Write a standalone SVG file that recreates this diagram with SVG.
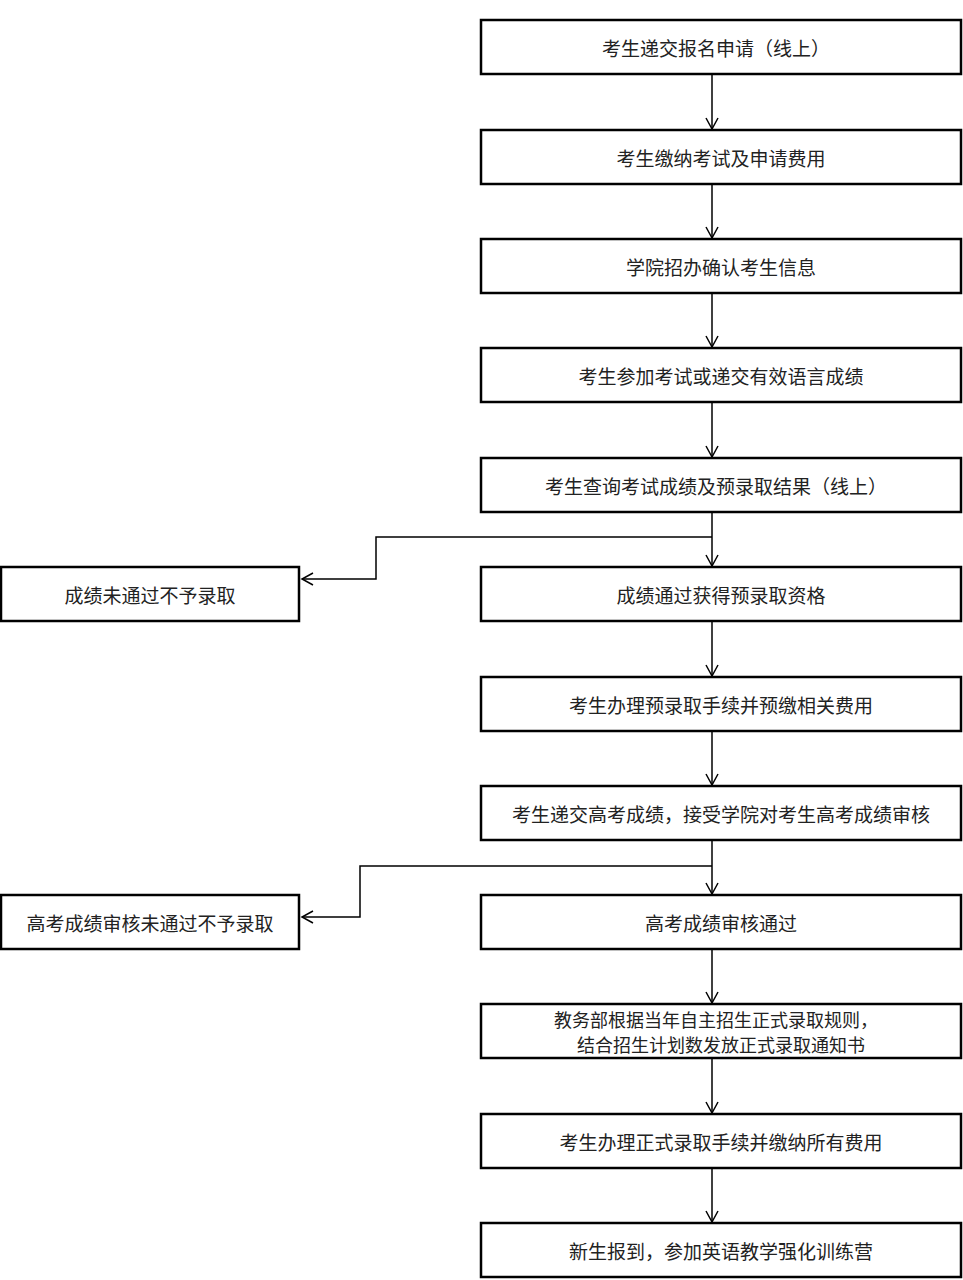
<svg xmlns="http://www.w3.org/2000/svg" width="963" height="1280" viewBox="0 0 963 1280">
<style>
rect{fill:#fff;stroke:#000;stroke-width:2.5}
text{font-family:"Noto Sans CJK SC","Noto Sans",sans-serif;font-size:19px;fill:#222;text-anchor:middle;dominant-baseline:central}
.s{font-size:18px}
.c{fill:none;stroke:#000;stroke-width:1.5}
</style>
<defs><marker id="a" markerWidth="14" markerHeight="14" refX="12" refY="7" orient="auto" markerUnits="userSpaceOnUse"><path d="M1,1 L12,7 L1,13" fill="none" stroke="#000" stroke-width="1.5"/></marker></defs>
<rect x="0" y="0" width="963" height="1280" style="fill:#fff;stroke:none"/>
<g id="connectors">
<path class="c" marker-end="url(#a)" d="M712,74 V129"/>
<path class="c" marker-end="url(#a)" d="M712,184 V238"/>
<path class="c" marker-end="url(#a)" d="M712,293 V347"/>
<path class="c" marker-end="url(#a)" d="M712,402 V457"/>
<path class="c" marker-end="url(#a)" d="M712,512 V566"/>
<path class="c" marker-end="url(#a)" d="M712,537 H376 V579 H302"/>
<path class="c" marker-end="url(#a)" d="M712,621 V676"/>
<path class="c" marker-end="url(#a)" d="M712,731 V785"/>
<path class="c" marker-end="url(#a)" d="M712,840 V894"/>
<path class="c" marker-end="url(#a)" d="M712,866 H360 V917 H302"/>
<path class="c" marker-end="url(#a)" d="M712,949 V1003"/>
<path class="c" marker-end="url(#a)" d="M712,1058 V1113"/>
<path class="c" marker-end="url(#a)" d="M712,1168 V1222"/>
</g>
<g id="n1"><rect x="481" y="20" width="480" height="54"/><text x="716" y="47">考生递交报名申请（线上）</text></g>
<g id="n2"><rect x="481" y="130" width="480" height="54"/><text x="721" y="157">考生缴纳考试及申请费用</text></g>
<g id="n3"><rect x="481" y="239" width="480" height="54"/><text x="721" y="266">学院招办确认考生信息</text></g>
<g id="n4"><rect x="481" y="348" width="480" height="54"/><text x="721" y="375">考生参加考试或递交有效语言成绩</text></g>
<g id="n5"><rect x="481" y="458" width="480" height="54"/><text x="716" y="485">考生查询考试成绩及预录取结果（线上）</text></g>
<g id="n6"><rect x="481" y="567" width="480" height="54"/><text x="721" y="594">成绩通过获得预录取资格</text></g>
<g id="n6b"><rect x="1" y="567" width="298" height="54"/><text x="150" y="594">成绩未通过不予录取</text></g>
<g id="n7"><rect x="481" y="677" width="480" height="54"/><text x="721" y="704">考生办理预录取手续并预缴相关费用</text></g>
<g id="n8"><rect x="481" y="786" width="480" height="54"/><text x="721" y="813">考生递交高考成绩，接受学院对考生高考成绩审核</text></g>
<g id="n9"><rect x="481" y="895" width="480" height="54"/><text x="721" y="922">高考成绩审核通过</text></g>
<g id="n9b"><rect x="1" y="895" width="298" height="54"/><text x="150" y="922">高考成绩审核未通过不予录取</text></g>
<g id="n10"><rect x="481" y="1004" width="480" height="54"/><text class="s" x="716" y="1019">教务部根据当年自主招生正式录取规则，</text><text class="s" x="721" y="1044">结合招生计划数发放正式录取通知书</text></g>
<g id="n11"><rect x="481" y="1114" width="480" height="54"/><text x="721" y="1141">考生办理正式录取手续并缴纳所有费用</text></g>
<g id="n12"><rect x="481" y="1223" width="480" height="54"/><text x="721" y="1250">新生报到，参加英语教学强化训练营</text></g>
</svg>
